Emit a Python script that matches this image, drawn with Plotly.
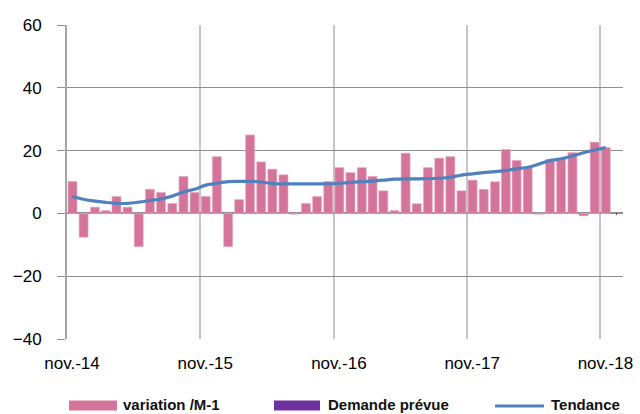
import pandas as pd
import plotly.graph_objects as go

# ---- data ----
months = pd.date_range("2014-11-01", "2018-11-01", freq="MS")
variation = [10.2, -7.6, 2.0, 0.9, 5.4, 2.0, -10.6, 7.7, 6.7, 3.2, 11.8, 6.7,
             5.4, 18.1, -10.6, 4.4, 25.0, 16.4, 14.1, 12.3, -0.3, 3.2, 5.4, 10.2,
             14.6, 13.0, 14.6, 11.8, 7.2, 0.9, 19.2, 3.1, 14.6, 17.6, 18.1, 7.2,
             10.6, 7.7, 10.1, 20.4, 16.9, 14.6, -0.3, 17.2, 17.5, 19.4, -0.8, 22.7,
             21.0]
tendance = [5.4, 4.5, 3.9, 3.5, 3.2, 3.2, 3.6, 4.1, 4.6, 5.5, 6.8, 7.7,
            9.0, 9.6, 10.1, 10.2, 10.2, 10.0, 9.5, 9.4, 9.4, 9.4, 9.4, 9.4,
            9.6, 9.9, 10.1, 10.3, 10.6, 10.9, 11.0, 11.0, 11.1, 11.2, 11.5, 12.2,
            12.6, 13.0, 13.3, 13.7, 14.2, 14.7, 15.7, 16.8, 17.4, 18.3, 19.3, 20.2,
            21.0]
demande_dates = ["2018-12-01"]
demande_prevue = [-0.4]

tick_dates = ["2014-11-01", "2015-11-01", "2016-11-01", "2017-11-01", "2018-11-01"]
tick_labels = ["nov.-14", "nov.-15", "nov.-16", "nov.-17", "nov.-18"]
y_ticks = [-40, -20, 0, 20, 40, 60]

legend_names = ["variation /M-1", "Demande prévue", "Tendance"]

PINK = "#d5749b"
PURPLE = "#7030a0"
BLUE = "#4f81bd"

fig = go.Figure()
fig.add_trace(go.Bar(x=months, y=variation, name=legend_names[0],
                     xperiod="M1", xperiodalignment="middle",
                     marker=dict(color=PINK, line=dict(width=0.6, color="#eab3c8"))))
fig.add_trace(go.Bar(x=demande_dates, y=demande_prevue, name=legend_names[1],
                     xperiod="M1", xperiodalignment="middle",
                     marker=dict(color=PURPLE, line=dict(width=0))))
fig.add_trace(go.Scatter(x=months, y=tendance, name=legend_names[2], mode="lines",
                         xperiod="M1", xperiodalignment="middle",
                         line=dict(color=BLUE, width=3.2, shape="spline", smoothing=0.8)))

L, R, T, B = 67, 17, 25, 75
W, H = 640, 414
pw, ph = W - L - R, H - T - B

def px(x):
    return (x - L) / pw

def py(y):
    return (H - B - y) / ph

shapes = [
    dict(type="rect", xref="paper", yref="paper", x0=px(69), x1=px(117), y0=py(410.5), y1=py(400.5),
         fillcolor=PINK, line=dict(width=0)),
    dict(type="rect", xref="paper", yref="paper", x0=px(274), x1=px(320), y0=py(410.5), y1=py(400.5),
         fillcolor=PURPLE, line=dict(width=0)),
    dict(type="line", xref="paper", yref="paper", x0=px(495), x1=px(544), y0=py(406), y1=py(406),
         line=dict(color=BLUE, width=3.2)),
]
ann_font = dict(family="Liberation Sans", size=15, color="#111111", weight="bold")
annotations = [
    dict(xref="paper", yref="paper", x=px(121), y=py(404.5), text=legend_names[0], showarrow=False,
         xanchor="left", yanchor="middle", font=ann_font),
    dict(xref="paper", yref="paper", x=px(326), y=py(404.5), text=legend_names[1], showarrow=False,
         xanchor="left", yanchor="middle", font=ann_font),
    dict(xref="paper", yref="paper", x=px(549), y=py(404.5), text=legend_names[2], showarrow=False,
         xanchor="left", yanchor="middle", font=ann_font),
]

fig.update_layout(
    width=W, height=H,
    margin=dict(l=L, r=R, t=T, b=B, autoexpand=False),
    paper_bgcolor="white", plot_bgcolor="white",
    barmode="overlay", bargap=0.16,
    showlegend=False,
    shapes=shapes, annotations=annotations,
    font=dict(family="Liberation Sans", size=17, color="#000000"),
)
fig.update_xaxes(
    type="date", range=["2014-11-01", "2019-01-02"],
    tickmode="array", tickvals=tick_dates, ticktext=tick_labels,
    showgrid=True, gridcolor="#c6c6c6", gridwidth=2,
    ticks="", ticklabelshift=5, ticklabelstandoff=12,
    showline=False, zeroline=False,
)
fig.update_yaxes(
    range=[-40, 60], tickmode="array", tickvals=y_ticks,
    showgrid=True, gridcolor="#8e8e8e", gridwidth=1,
    showline=True, linecolor="#a6a6a6", linewidth=2,
    ticks="outside", ticklen=8, tickcolor="#8e8e8e", tickwidth=1,
    ticklabelstandoff=12,
    zeroline=True, zerolinecolor="#8e8e8e", zerolinewidth=2,
)

fig.write_html("out.html", config={"displayModeBar": False},
               post_script="document.body.style.margin='0px';document.body.style.overflow='hidden';")
